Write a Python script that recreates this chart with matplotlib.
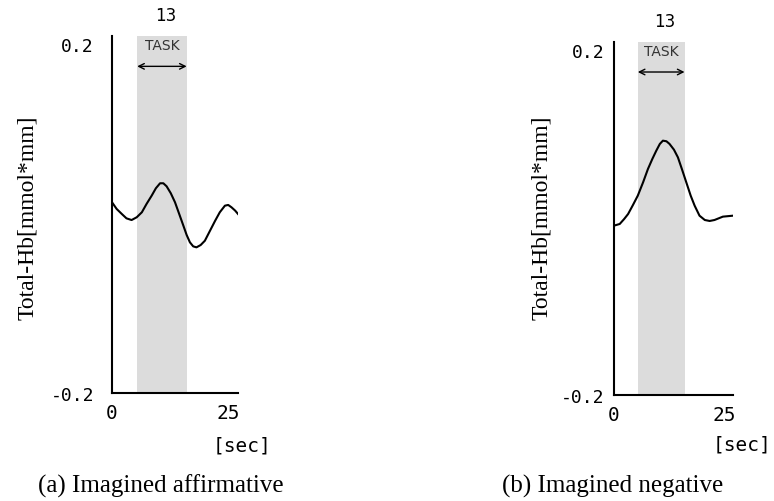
import matplotlib
matplotlib.use("Agg")
import matplotlib.pyplot as plt
import matplotlib.transforms as mtransforms

# values (time in sec, Total-Hb in mmol*mm)
t_affirm = [0.0, 1.0, 2.1, 3.1, 4.2, 5.3, 6.4, 7.4, 8.5, 9.4, 10.3, 11.0, 11.7, 12.6, 13.5,
            14.4, 15.3, 16.0, 16.7, 17.4, 18.1, 19.0, 19.9, 21.0, 22.1, 23.1, 24.2, 24.9,
            25.6, 26.4, 27.0]
hb_affirm = [0.0137, 0.0062, 0.0006, -0.0043, -0.0062, -0.0031, 0.0025, 0.0118, 0.0211,
             0.0294, 0.0350, 0.0350, 0.0316, 0.0238, 0.0137, 0.0006, -0.0126, -0.0230,
             -0.0312, -0.0357, -0.0368, -0.0342, -0.0294, -0.0182, -0.0070, 0.0025,
             0.0099, 0.0107, 0.0081, 0.0043, 0.0006]

t_negative = [0.0, 1.3, 2.3, 3.2, 4.3, 5.4, 6.6, 7.7, 8.7, 9.6, 10.4, 11.1, 11.9, 12.6, 13.6,
              14.5, 15.4, 16.4, 17.4, 18.3, 19.4, 20.6, 21.7, 22.8, 24.7, 27.0]
hb_negative = [-0.0081, -0.0062, -0.0006, 0.0051, 0.0153, 0.0259, 0.0410, 0.0561, 0.0675,
               0.0769, 0.0845, 0.0882, 0.0875, 0.0845, 0.0780, 0.0693, 0.0561, 0.0410,
               0.0259, 0.0145, 0.0032, -0.0017, -0.0028, -0.0017, 0.0021, 0.0032]

task_window = [5.4, 16.0]
task_length = "13"
x_ticks = [0, 25]
y_ticks = [-0.2, 0.2]
y_ticklabels = ["-0.2", "0.2"]
captions = ["(a) Imagined affirmative", "(b) Imagined negative"]
ylabel = "Total-Hb[mmol*mm]"

W, H = 774, 502
fig = plt.figure(figsize=(W / 100, H / 100), dpi=100)


def px_axes(x0, y0, x1, y1):
    # pixel box (top-left origin) -> figure fraction
    return [x0 / W, 1 - y1 / H, (x1 - x0) / W, (y1 - y0) / H]


def draw_panel(rect, t, hb, ypad):
    ax = fig.add_axes(rect)
    ax.axvspan(task_window[0], task_window[1], color="#dcdcdc", lw=0, zorder=0)
    ax.plot(t, hb, color="black", lw=1.5, zorder=3)
    ax.set_xlim(0, 27)
    ax.set_ylim(-0.2, 0.2)
    for s in ["top", "right"]:
        ax.spines[s].set_visible(False)
    for s in ["left", "bottom"]:
        ax.spines[s].set_linewidth(1.5)
        ax.spines[s].set_color("black")
    ax.set_xticks(x_ticks)
    ax.set_xticklabels([str(v) for v in x_ticks], family="DejaVu Sans Mono", fontsize=14)
    ax.set_yticks(y_ticks)
    ax.set_yticklabels(y_ticklabels, family="DejaVu Sans Mono", fontsize=13)
    ax.tick_params(axis="x", length=0, pad=7)
    ax.tick_params(axis="y", length=0, pad=ypad)
    # top label sits a little below the axis end
    top = ax.get_yticklabels()[1]
    top.set_transform(top.get_transform() +
                      mtransforms.ScaledTranslation(0, -8 / 100, fig.dpi_scale_trans))
    ax.patch.set_alpha(0)

    mid = (task_window[0] + task_window[1]) / 2
    ax.annotate("", xy=(task_window[1], 0.166), xytext=(task_window[0], 0.166),
                arrowprops=dict(arrowstyle="<->", lw=1.0, color="black",
                                shrinkA=0, shrinkB=0, mutation_scale=10))
    ax.text(mid, 0.19, "TASK", ha="center", va="center", fontsize=10,
            color="#333333", family="DejaVu Sans")
    ax.text(mid + 0.8, 0.224, task_length, ha="center", va="center", fontsize=12,
            family="DejaVu Sans", clip_on=False)
    return ax


draw_panel(px_axes(112, 37, 238, 394), t_affirm, hb_affirm, 13)
draw_panel(px_axes(614, 43, 733, 396), t_negative, hb_negative, 7)

# axis titles and captions
for x in [28, 542]:
    fig.text(x / W, 1 - 218 / H, ylabel, rotation=90, ha="center", va="center",
             family="Liberation Serif", fontsize=17)
for x, y in [(242, 446), (742, 445)]:
    fig.text(x / W, 1 - y / H, "[sec]", ha="center", va="center",
             family="DejaVu Sans Mono", fontsize=14)
for x, cap in zip([161, 613], captions):
    fig.text(x / W, 1 - 486 / H, cap, ha="center", va="center",
             family="Liberation Serif", fontsize=18)

fig.savefig("out.png", dpi=100)
